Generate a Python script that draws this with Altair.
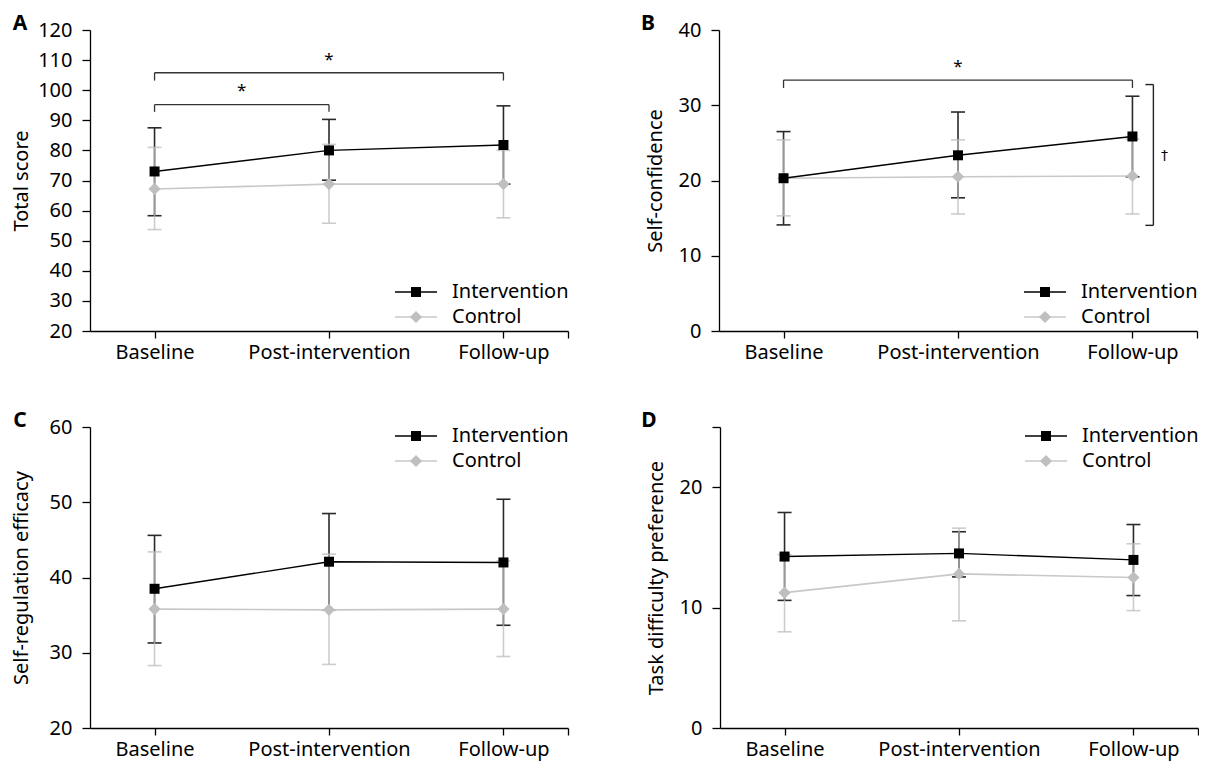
import json
import altair as alt
import pandas as pd

FONT = "Noto Sans"

categories = ["Baseline", "Post-intervention", "Follow-up"]
groups = ["Intervention", "Control"]

# Panel A: Total score
a_int_mean = [73.0, 80.0, 81.8]
a_int_lo = [58.3, 70.1, 68.8]
a_int_hi = [87.5, 90.3, 94.8]
a_ctl_mean = [67.2, 68.8, 68.8]
a_ctl_lo = [53.7, 55.8, 57.6]
a_ctl_hi = [81.0, 82.0, 80.0]

# Panel B: Self-confidence
b_int_mean = [20.3, 23.35, 25.85]
b_int_lo = [14.1, 17.7, 20.5]
b_int_hi = [26.5, 29.1, 31.2]
b_ctl_mean = [20.3, 20.5, 20.6]
b_ctl_lo = [15.3, 15.55, 15.55]
b_ctl_hi = [25.4, 25.4, 25.5]

# Panel C: Self-regulation efficacy
c_int_mean = [38.5, 42.1, 42.0]
c_int_lo = [31.3, 35.7, 33.65]
c_int_hi = [45.6, 48.5, 50.4]
c_ctl_mean = [35.8, 35.7, 35.8]
c_ctl_lo = [28.3, 28.45, 29.5]
c_ctl_hi = [43.4, 43.1, 42.2]

# Panel D: Task difficulty preference
d_int_mean = [14.24, 14.5, 13.96]
d_int_lo = [10.6, 12.55, 11.0]
d_int_hi = [17.9, 16.3, 16.9]
d_ctl_mean = [11.24, 12.8, 12.5]
d_ctl_lo = [7.99, 8.9, 9.75]
d_ctl_hi = [14.4, 16.6, 15.3]

# significance brackets: (from category, to category, bar y, end y, star y)
a_brackets = [(0, 2, 105.8, 103.2, 109.9), (0, 1, 95.2, 92.8, 99.6)]
b_brackets = [(0, 2, 33.35, 32.3, 35.1)]
# between-group bracket at follow-up (panel B): bottom, top, dagger y
b_group_bracket = [14.04, 32.75, 23.3]

W, H = 478, 301
XDOM = [-0.37, 2.37]
DARK = "#2a2a2a"
GRAY_LINE = "#c8c8c8"
GRAY_BAR = "#bcbcbc"
GRAY_MARK = "#bfbfbf"

label_expr = f"{json.dumps(categories)}[datum.value] || ''"


def frame(mean, lo, hi):
    return pd.DataFrame({"pos": list(range(len(categories))), "cat": categories,
                         "mean": mean, "lo": lo, "hi": hi})


def panel(letter, ytitle, ydom, yticks, ylabels_hide, ints, ctls, legend_top,
          brackets=(), group_bracket=None, title_x=-70, letter_x=-74):
    xscale = alt.Scale(domain=XDOM, nice=False, zero=False)
    xaxis = alt.Axis(values=[0, 1, 2, XDOM[1]], labelExpr=label_expr, title=None,
                     grid=False, tickSize=7, labelPadding=4, labelFontSize=20,
                     labelFont=FONT, labelColor="black", domainColor="black",
                     tickColor="black", domainWidth=1.3, tickWidth=1.3,
                     labelFlush=False, labelOverlap=False)

    def X(field):
        return alt.X(field, scale=xscale, axis=xaxis)

    hide = " || ".join(f"datum.value == {v}" for v in ylabels_hide) or "false"
    yaxis = alt.Axis(values=yticks, title=ytitle, grid=False, tickSize=8, labelPadding=10,
                     labelFontSize=20, labelFont=FONT, labelColor="black",
                     labelExpr=f"({hide}) ? '' : datum.label",
                     titleFont=FONT, titleFontSize=20, titleFontWeight="normal",
                     titleColor="black", titleX=title_x, titleY=H / 2, titleAngle=-90,
                     titleAlign="center", titleBaseline="middle",
                     domainColor="black", tickColor="black", domainWidth=1.3, tickWidth=1.3)
    yscale = alt.Scale(domain=ydom, nice=False, zero=False)

    def Y(field):
        return alt.Y(field, scale=yscale, axis=yaxis)

    layers = []
    dfi = frame(*ints)
    dfc = frame(*ctls)
    for df, col, op in ((dfi, DARK, 1.0), (dfc, GRAY_BAR, 0.75)):
        layers.append(alt.Chart(df).mark_rule(color=col, strokeWidth=1.6, opacity=op)
                      .encode(x=X("pos:Q"), y=Y("lo:Q"), y2="hi:Q"))
        for f in ("lo", "hi"):
            layers.append(alt.Chart(df).mark_tick(color=col, orient="horizontal", size=14,
                                                  thickness=1.6, opacity=op)
                          .encode(x=X("pos:Q"), y=Y(f"{f}:Q")))
    layers.append(alt.Chart(dfc).mark_line(color=GRAY_LINE, strokeWidth=1.6)
                  .encode(x=X("pos:Q"), y=Y("mean:Q")))
    layers.append(alt.Chart(dfc).mark_point(shape="diamond", filled=True, size=150,
                                            color=GRAY_MARK, opacity=1)
                  .encode(x=X("pos:Q"), y=Y("mean:Q")))
    layers.append(alt.Chart(dfi).mark_line(color="black", strokeWidth=1.4)
                  .encode(x=X("pos:Q"), y=Y("mean:Q")))
    layers.append(alt.Chart(dfi).mark_point(shape="square", filled=True, size=100,
                                            color="black", opacity=1)
                  .encode(x=X("pos:Q"), y=Y("mean:Q")))

    # significance brackets
    if brackets:
        bdf = pd.DataFrame(brackets, columns=["x1", "x2", "y", "yend", "ystar"])
        bdf["xm"] = (bdf["x1"] + bdf["x2"]) / 2
        layers.append(alt.Chart(bdf).mark_rule(color="#333333", strokeWidth=1.3)
                      .encode(x=X("x1:Q"), x2="x2:Q", y=Y("y:Q")))
        for xf in ("x1", "x2"):
            layers.append(alt.Chart(bdf).mark_rule(color="#333333", strokeWidth=1.3)
                          .encode(x=X(f"{xf}:Q"), y=Y("y:Q"), y2="yend:Q"))
        layers.append(alt.Chart(bdf).mark_text(text="*", fontSize=17, font=FONT,
                                               color="black", baseline="middle")
                      .encode(x=X("xm:Q"), y=Y("ystar:Q")))
    if group_bracket:
        lo, hi, yd = group_bracket
        gdf = pd.DataFrame({"xr": [2.12], "xl": [2.074], "lo": [lo], "hi": [hi],
                            "yd": [yd], "xd": [2.183]})
        layers.append(alt.Chart(gdf).mark_rule(color="#222222", strokeWidth=1.4)
                      .encode(x=X("xr:Q"), y=Y("lo:Q"), y2="hi:Q"))
        for f in ("lo", "hi"):
            layers.append(alt.Chart(gdf).mark_rule(color="#222222", strokeWidth=1.4)
                          .encode(x=X("xl:Q"), x2="xr:Q", y=Y(f"{f}:Q")))
        layers.append(alt.Chart(gdf).mark_text(text="\u2020", fontSize=14, font="DejaVu Sans",
                                               color="#000000", baseline="middle")
                      .encode(x=X("xd:Q"), y=Y("yd:Q")))

    # legend
    ly0 = 9 if legend_top else 262
    styles = [("black", "square", 100, "black"), (GRAY_LINE, "diamond", 150, GRAY_MARK)]
    for i, g in enumerate(groups):
        ly = ly0 + 25 * i
        lcol, shp, sz, mcol = styles[i]
        ldf = pd.DataFrame({"label": [g]})
        base = alt.Chart(ldf)
        layers.append(base.mark_rule(color=lcol, strokeWidth=1.5)
                      .encode(x=alt.value(305), x2=alt.value(347), y=alt.value(ly)))
        layers.append(base.mark_point(shape=shp, filled=True, size=sz, color=mcol, opacity=1)
                      .encode(x=alt.value(326), y=alt.value(ly)))
        layers.append(base.mark_text(align="left", baseline="middle", fontSize=20, font=FONT,
                                     color="black")
                      .encode(x=alt.value(362), y=alt.value(ly), text="label:N"))

    ldf = pd.DataFrame({"letter": [letter]})
    layers.append(alt.Chart(ldf).mark_text(align="center", baseline="middle", fontSize=21,
                                           fontWeight="bold", font=FONT, color="black")
                  .encode(x=alt.value(letter_x), y=alt.value(-6), text="letter:N"))

    return alt.layer(*layers).properties(width=W, height=H)


pA = panel("A", "Total score", [20, 120], list(range(20, 121, 10)), [],
           (a_int_mean, a_int_lo, a_int_hi), (a_ctl_mean, a_ctl_lo, a_ctl_hi),
           legend_top=False, brackets=a_brackets, title_x=-69, letter_x=-70)
pB = panel("B", "Self-confidence", [0, 40], [0, 10, 20, 30, 40], [],
           (b_int_mean, b_int_lo, b_int_hi), (b_ctl_mean, b_ctl_lo, b_ctl_hi),
           legend_top=False, brackets=b_brackets, group_bracket=b_group_bracket,
           title_x=-64, letter_x=-71)
pC = panel("C", "Self-regulation efficacy", [20, 60], [20, 30, 40, 50, 60], [],
           (c_int_mean, c_int_lo, c_int_hi), (c_ctl_mean, c_ctl_lo, c_ctl_hi),
           legend_top=True, title_x=-69, letter_x=-70)
pD = panel("D", "Task difficulty preference", [0, 25], [0, 10, 20, 25], [25],
           (d_int_mean, d_int_lo, d_int_hi), (d_ctl_mean, d_ctl_lo, d_ctl_hi),
           legend_top=True, title_x=-64, letter_x=-71)

top = alt.hconcat(pA, pB, spacing=72)
bottom = alt.hconcat(pC, pD, spacing=72)
chart = alt.vconcat(top, bottom, spacing=48).configure(
    padding={"left": 3, "top": 5, "right": 0, "bottom": 3}, background="white",
    view=alt.ViewConfig(stroke=None))

chart.save("out.html", embed_options={"renderer": "svg", "actions": False})
